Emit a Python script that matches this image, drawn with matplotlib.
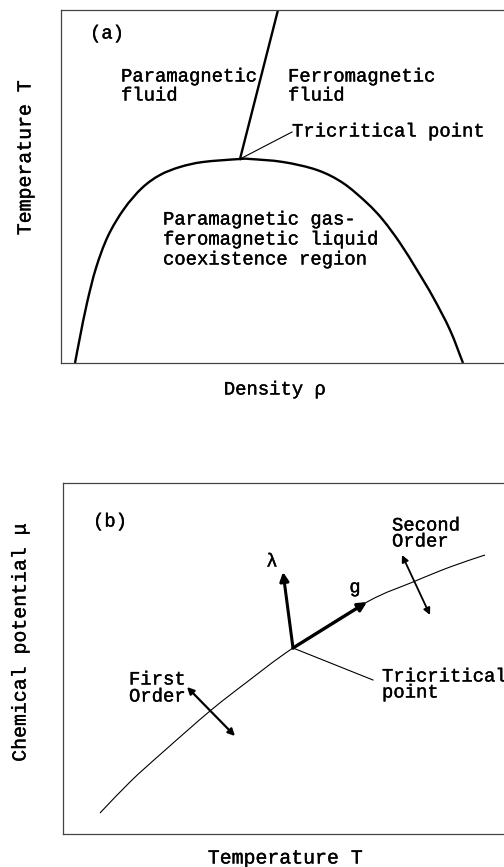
import matplotlib
matplotlib.use("Agg")
import matplotlib.pyplot as plt
import matplotlib.patheffects as pe
from matplotlib.path import Path
from matplotlib.patches import PathPatch

plt.rcParams['font.family'] = ['Liberation Mono', 'DejaVu Sans Mono']

W, H = 504, 867
FS = 13.6
FS_LAB = 14.3
BOLDEN = [pe.withStroke(linewidth=0.25, foreground='black')]

# ---------- Panel (a) data (density, temperature) ----------
coex_rho = [14, 19, 26, 35, 47, 63, 81, 99, 119, 142, 179, 189, 222, 256, 282,
            306, 322, 339, 356, 372, 389, 402]
coex_T = [0, 26, 60, 95, 127, 154, 175, 188, 196, 201, 204, 204, 201, 193, 180,
          160, 143, 120, 93, 66, 33, 0]
lambda_rho = [179, 217]
lambda_T = [204, 353]
tcp_a = (179, 204)
tcp_a_label = (231, 231)

# ---------- Panel (b) data (temperature, chemical potential) ----------
line_T = [37, 68, 100, 147, 184, 230, 304, 350, 387, 422]
line_mu = [21, 53, 82, 123, 152, 186, 232, 252, 267, 279]
tcp_b = (230, 186)
lam_tip = (220, 262)
g_tip = (304, 232)
tcp_b_label = (310, 154)
first_order = [(124, 147), (172, 98)]
second_order = [(339, 279), (367, 219)]

fig = plt.figure(figsize=(W / 100, H / 100), dpi=100)


def add_axes_px(left, top, right, bottom):
    return fig.add_axes([left / W, 1 - bottom / H, (right - left) / W, (bottom - top) / H])


def smooth_path(xs, ys):
    """Catmull-Rom curve through the given points, as cubic Bezier path."""
    pts = list(zip(xs, ys))
    n = len(pts)
    ext = [(2 * pts[0][0] - pts[1][0], 2 * pts[0][1] - pts[1][1])] + pts + \
          [(2 * pts[-1][0] - pts[-2][0], 2 * pts[-1][1] - pts[-2][1])]
    verts = [pts[0]]
    codes = [Path.MOVETO]
    for i in range(1, n):
        p0, p1, p2, p3 = ext[i - 1], ext[i], ext[i + 1], ext[i + 2]
        c1 = (p1[0] + (p2[0] - p0[0]) / 6, p1[1] + (p2[1] - p0[1]) / 6)
        c2 = (p2[0] - (p3[0] - p1[0]) / 6, p2[1] - (p3[1] - p1[1]) / 6)
        verts += [c1, c2, p2]
        codes += [Path.CURVE4] * 3
    return Path(verts, codes)


def txt(ax, x, y, s, **kw):
    kw.setdefault('fontsize', FS)
    kw.setdefault('va', 'center')
    kw.setdefault('ha', 'left')
    return ax.text(x, y, s, path_effects=BOLDEN, **kw)


spine_col = '#444444'

# ----- Panel (a) -----
ax1 = add_axes_px(61, 10, 520, 363)
ax1.set_xlim(0, 459)
ax1.set_ylim(0, 353)
ax1.set_xticks([])
ax1.set_yticks([])
for s in ax1.spines.values():
    s.set_linewidth(0.9)
    s.set_color(spine_col)
ax1.add_patch(PathPatch(smooth_path(coex_rho, coex_T), fill=False, edgecolor='black', lw=1.7))
ax1.plot(lambda_rho, lambda_T, color='black', lw=1.7)
ax1.plot([tcp_a[0], tcp_a_label[0]], [tcp_a[1], tcp_a_label[1]], color='black', lw=0.8)

txt(ax1, 29, 329, '(a)')
txt(ax1, 60, 286, 'Paramagnetic')
txt(ax1, 60, 267, 'fluid')
txt(ax1, 227, 286, 'Ferromagnetic')
txt(ax1, 227, 267, 'fluid')
txt(ax1, tcp_a_label[0], tcp_a_label[1], 'Tricritical point')
txt(ax1, 102, 143, 'Paramagnetic gas-')
txt(ax1, 102, 123, 'feromagnetic liquid')
txt(ax1, 102, 103, 'coexistence region')

txt(fig, 25 / W, 1 - 158 / H, 'Temperature T', fontsize=FS_LAB, rotation=90, ha='center')
txt(fig, 275 / W, 1 - 390 / H, 'Density ρ', ha='center')

# ----- Panel (b) -----
ax2 = add_axes_px(63, 483, 520, 834)
ax2.set_xlim(0, 457)
ax2.set_ylim(0, 351)
ax2.set_xticks([])
ax2.set_yticks([])
for s in ax2.spines.values():
    s.set_linewidth(0.9)
    s.set_color(spine_col)
ax2.add_patch(PathPatch(smooth_path(line_T, line_mu), fill=False, edgecolor='black', lw=0.8))
ax2.plot([tcp_b[0], tcp_b_label[0]], [tcp_b[1], tcp_b_label[1]], color='black', lw=0.8)

ax2.annotate('', xy=lam_tip, xytext=tcp_b,
             arrowprops=dict(arrowstyle='-|>', lw=2.2, color='black', mutation_scale=13,
                             shrinkA=0, shrinkB=0))
ax2.annotate('', xy=g_tip, xytext=tcp_b,
             arrowprops=dict(arrowstyle='-|>', lw=2.4, color='black', mutation_scale=13,
                             shrinkA=0, shrinkB=0))
ax2.annotate('', xy=first_order[0], xytext=first_order[1],
             arrowprops=dict(arrowstyle='<|-|>', lw=1.6, color='black', mutation_scale=10,
                             shrinkA=0, shrinkB=0))
ax2.annotate('', xy=second_order[0], xytext=second_order[1],
             arrowprops=dict(arrowstyle='<|-|>', lw=1.3, color='black', mutation_scale=10,
                             shrinkA=0, shrinkB=0))

txt(ax2, 30, 312, '(b)')
txt(ax2, 329, 308, 'Second')
txt(ax2, 329, 292, 'Order')
txt(ax2, 66, 154, 'First')
txt(ax2, 66, 137, 'Order')
txt(ax2, 319, 157, 'Tricritical')
txt(ax2, 319, 141, 'point')
txt(ax2, 209, 272, 'λ', ha='center')
txt(ax2, 292, 246, 'g', ha='center')

txt(fig, 20 / W, 1 - 643 / H, 'Chemical potential μ', fontsize=FS_LAB, rotation=90, ha='center')
txt(fig, 285 / W, 1 - 858 / H, 'Temperature T', fontsize=FS_LAB, ha='center')

fig.savefig('out.png', dpi=100)
